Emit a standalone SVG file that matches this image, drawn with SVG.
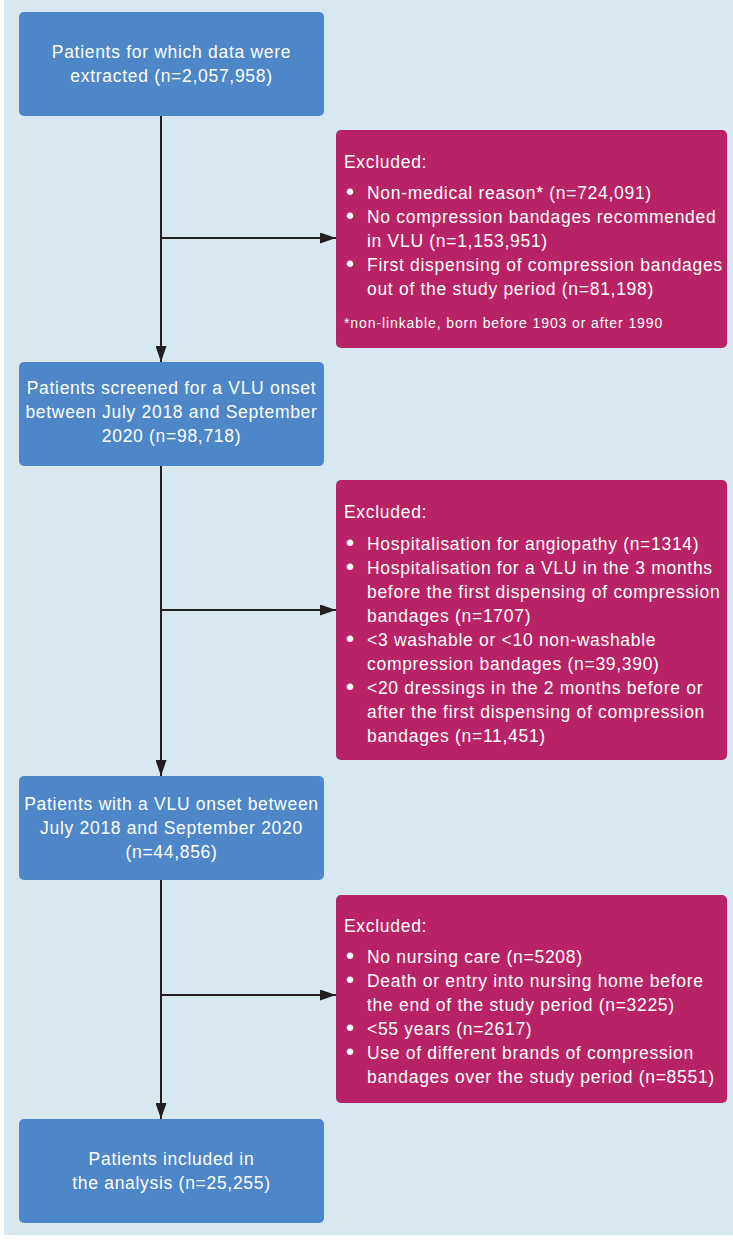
<svg xmlns="http://www.w3.org/2000/svg" width="733" height="1241" viewBox="0 0 733 1241">
<defs>
<marker id="ah" viewBox="0 0 16 11" refX="16" refY="5.5" markerWidth="16" markerHeight="11" markerUnits="userSpaceOnUse" orient="auto">
<path d="M0,0 L16,5.5 L0,11 z" fill="#231f20"/>
</marker>
<style>
.bg{fill:#d7e8f0}
.blue{fill:#4d87c7}
.pink{fill:#b72364}
.t{font-family:"Liberation Sans",Arial,sans-serif;font-size:17.5px;letter-spacing:0.7px;fill:#ffffff}
.c{text-anchor:middle}
.b{font-family:"Liberation Sans",Arial,sans-serif;font-size:23px;fill:#ffffff;text-anchor:middle}
.fn{font-size:14px;letter-spacing:0.9px}
.ln{stroke:#231f20;stroke-width:2;fill:none}
</style>
</defs>
<rect x="0" y="0" width="733" height="1241" fill="#ffffff"/>
<rect class="bg" x="4" y="0" width="729" height="1235"/>
<g id="connectors">
<path class="ln" d="M161,116 V362" marker-end="url(#ah)"/>
<path class="ln" d="M161,238 H336" marker-end="url(#ah)"/>
<path class="ln" d="M161,466 V776" marker-end="url(#ah)"/>
<path class="ln" d="M161,610 H336" marker-end="url(#ah)"/>
<path class="ln" d="M161,880 V1119" marker-end="url(#ah)"/>
<path class="ln" d="M161,995 H336" marker-end="url(#ah)"/>
</g>
<g id="n1">
<rect class="blue" x="19" y="12" width="305" height="104" rx="5"/>
<text class="t c" x="171.5" y="58">Patients for which data were</text>
<text class="t c" x="171.5" y="82">extracted (n=2,057,958)</text>
</g>
<g id="e1">
<rect class="pink" x="336" y="130" width="391" height="218" rx="5"/>
<text class="t" x="344" y="168">Excluded:</text>
<text class="b" x="350" y="200">•</text><text class="t" x="367" y="199">Non-medical reason* (n=724,091)</text>
<text class="b" x="350" y="224">•</text><text class="t" x="367" y="223">No compression bandages recommended</text>
<text class="t" x="367" y="247">in VLU (n=1,153,951)</text>
<text class="b" x="350" y="272">•</text><text class="t" x="367" y="271">First dispensing of compression bandages</text>
<text class="t" x="367" y="295">out of the study period (n=81,198)</text>
<text class="t fn" x="344" y="328">*non-linkable, born before 1903 or after 1990</text>
</g>
<g id="n2">
<rect class="blue" x="19" y="362" width="305" height="104" rx="5"/>
<text class="t c" x="171.5" y="394">Patients screened for a VLU onset</text>
<text class="t c" x="171.5" y="418">between July 2018 and September</text>
<text class="t c" x="171.5" y="442">2020 (n=98,718)</text>
</g>
<g id="e2">
<rect class="pink" x="336" y="480" width="391" height="280" rx="5"/>
<text class="t" x="344" y="518">Excluded:</text>
<text class="b" x="350" y="551">•</text><text class="t" x="367" y="550">Hospitalisation for angiopathy (n=1314)</text>
<text class="b" x="350" y="575">•</text><text class="t" x="367" y="574">Hospitalisation for a VLU in the 3 months</text>
<text class="t" x="367" y="598">before the first dispensing of compression</text>
<text class="t" x="367" y="622">bandages (n=1707)</text>
<text class="b" x="350" y="647">•</text><text class="t" x="367" y="646">&lt;3 washable or &lt;10 non-washable</text>
<text class="t" x="367" y="670">compression bandages (n=39,390)</text>
<text class="b" x="350" y="695">•</text><text class="t" x="367" y="694">&lt;20 dressings in the 2 months before or</text>
<text class="t" x="367" y="718">after the first dispensing of compression</text>
<text class="t" x="367" y="742">bandages (n=11,451)</text>
</g>
<g id="n3">
<rect class="blue" x="19" y="776" width="305" height="104" rx="5"/>
<text class="t c" x="171.5" y="810">Patients with a VLU onset between</text>
<text class="t c" x="171.5" y="834">July 2018 and September 2020</text>
<text class="t c" x="171.5" y="858">(n=44,856)</text>
</g>
<g id="e3">
<rect class="pink" x="336" y="895" width="391" height="208" rx="5"/>
<text class="t" x="344" y="932">Excluded:</text>
<text class="b" x="350" y="964">•</text><text class="t" x="367" y="963">No nursing care (n=5208)</text>
<text class="b" x="350" y="988">•</text><text class="t" x="367" y="987">Death or entry into nursing home before</text>
<text class="t" x="367" y="1011">the end of the study period (n=3225)</text>
<text class="b" x="350" y="1036">•</text><text class="t" x="367" y="1035">&lt;55 years (n=2617)</text>
<text class="b" x="350" y="1060">•</text><text class="t" x="367" y="1059">Use of different brands of compression</text>
<text class="t" x="367" y="1083">bandages over the study period (n=8551)</text>
</g>
<g id="n4">
<rect class="blue" x="19" y="1119" width="305" height="104" rx="5"/>
<text class="t c" x="171.5" y="1165">Patients included in</text>
<text class="t c" x="171.5" y="1189">the analysis (n=25,255)</text>
</g>
</svg>
